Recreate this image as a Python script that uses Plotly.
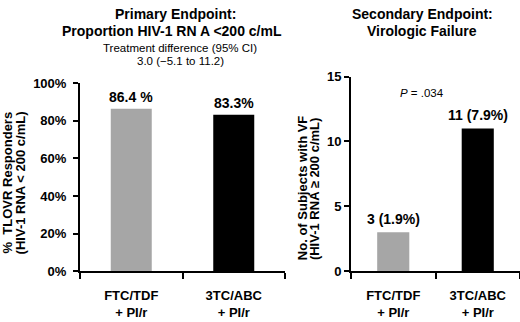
import plotly.graph_objects as go

categories = ["FTC/TDF<br>+ PI/r", "3TC/ABC<br>+ PI/r"]
responders_pct = [86.4, 83.3]
responders_labels = ["86.4 %", "83.3%"]
vf_counts = [3, 11]
vf_labels = ["3 (1.9%)", "11 (7.9%)"]
bar_colors = ["#a6a6a6", "#000000"]
left_yticks = [0, 20, 40, 60, 80, 100]
right_yticks = [0, 5, 10, 15]

W, H = 520, 322
def px(x): return x / W
def py(y): return 1 - y / H

FONT = "Liberation Sans, Arial, sans-serif"
xpos = list(range(len(categories)))

fig = go.Figure()
fig.add_trace(go.Bar(x=xpos, y=responders_pct, width=0.4, marker=dict(color=bar_colors, line=dict(width=0)),
                     xaxis="x", yaxis="y", hoverinfo="skip"))
fig.add_trace(go.Bar(x=xpos, y=vf_counts, width=0.38, marker=dict(color=bar_colors, line=dict(width=0)),
                     xaxis="x2", yaxis="y2", hoverinfo="skip"))

xcommon = dict(range=[-0.5, 1.5], tickmode="array", tickvals=xpos, ticktext=categories,
               ticks="", showline=True, linecolor="black", linewidth=2, showgrid=False, zeroline=False,
               ticklabelstandoff=11,
               tickfont=dict(family=FONT, size=13, color="black", weight="bold"),
               minor=dict(tickmode="array", tickvals=[-0.5, 0.5, 1.5], ticks="outside", ticklen=6,
                          tickwidth=2, tickcolor="black", showgrid=False))
ycommon = dict(showline=True, linecolor="black", linewidth=2, showgrid=False, zeroline=False,
               ticks="outside", ticklen=5, tickwidth=2, tickcolor="black",
               tickfont=dict(family=FONT, size=13, color="black", weight="bold"))

fig.update_layout(
    width=W, height=H, margin=dict(l=0, r=0, t=0, b=0),
    paper_bgcolor="white", plot_bgcolor="white", showlegend=False,
    xaxis=dict(domain=[px(80), px(285)], anchor="y", **xcommon),
    yaxis=dict(domain=[py(277), py(80)], anchor="x", range=[0, 100], tickmode="array",
               tickvals=left_yticks, ticktext=[f"{v}%" for v in left_yticks],
               ticklabelstandoff=4, **ycommon),
    xaxis2=dict(domain=[px(351), 1.0], anchor="y2", **xcommon),
    yaxis2=dict(domain=[py(277), py(73)], anchor="x2", range=[0, 15], tickmode="array",
                tickvals=right_yticks, ticklabelstandoff=0, **ycommon),
)

ann = []
for i, (v, t) in enumerate(zip(responders_pct, responders_labels)):
    ann.append(dict(x=i, y=v, xref="x", yref="y", text=t, showarrow=False, yanchor="bottom",
                    yshift=2, font=dict(family=FONT, size=14, color="black", weight="bold")))
for i, (v, t) in enumerate(zip(vf_counts, vf_labels)):
    ann.append(dict(x=i, y=v, xref="x2", yref="y2", text=t, showarrow=False, yanchor="bottom",
                    yshift=3, font=dict(family=FONT, size=14, color="black", weight="bold")))

def txt(x, y, text, size, bold=True, angle=0):
    return dict(x=px(x), y=py(y), xref="paper", yref="paper", text=text, showarrow=False,
                xanchor="center", yanchor="middle", textangle=angle,
                font=dict(family=FONT, size=size, color="black", weight="bold" if bold else "normal"))

ann += [
    txt(175, 7, "Primary Endpoint:", 14),
    txt(172, 25, "Proportion HIV-1 RN A <200 c/mL", 14),
    txt(180, 43, "Treatment difference (95% CI)", 11.5, bold=False),
    txt(180, 57, "3.0 (\u22125.1 to 11.2)", 11.5, bold=False),
    txt(422, 7, "Secondary Endpoint:", 14),
    txt(422, 25, "Virologic Failure", 14),
    txt(422, 90, "<i>P</i> = .034", 11.5, bold=False),
    txt(7, 184, "%  TLOVR Responders", 13, angle=-90),
    txt(20, 185, "(HIV-1 RNA < 200 c/mL)", 13, angle=-90),
    txt(302, 190, "No. of Subjects with VF", 13, angle=-90),
    txt(314, 191, "(HIV-1 RNA \u2265 200 c/mL)", 13, angle=-90),
]
fig.update_layout(annotations=ann)
fig.write_html("out.html", config={"displayModeBar": False},
               post_script="document.body.style.margin='0';document.body.style.overflow='hidden';")
